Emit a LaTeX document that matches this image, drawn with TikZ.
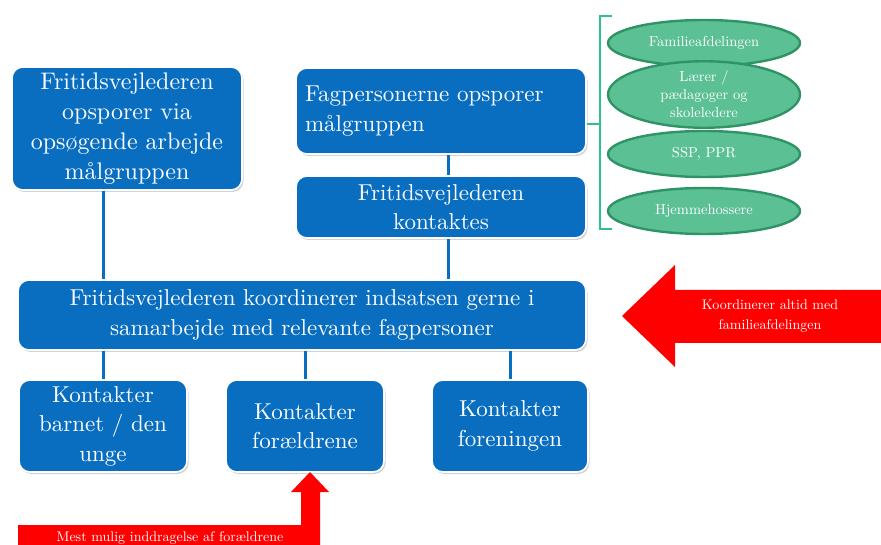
\documentclass[tikz,border=0pt]{standalone}
\usepackage{fontspec}
\newfontfamily\heavyrm{lmroman10-regular}[Extension=.otf]
\usetikzlibrary{shapes.geometric,shadows}
\definecolor{boxblue}{HTML}{0A6EC0}
\definecolor{ellfill}{HTML}{5CC095}
\definecolor{elldraw}{HTML}{2E9466}
\definecolor{bracecol}{HTML}{2EC18E}
\definecolor{arrred}{HTML}{FF0000}
\tikzset{
  bluebox/.style={draw=white, line width=1.6pt, fill=boxblue, rounded corners=11pt,
    text=white, align=center, inner sep=2pt,
    drop shadow={opacity=0.35, shadow xshift=1.5pt, shadow yshift=-2pt}},
  bigtxt/.style={font=\heavyrm\fontsize{24}{30}\selectfont},
  medtxt/.style={font=\heavyrm\fontsize{23}{29.5}\selectfont},
  greenell/.style={ellipse, draw=elldraw, line width=2.4pt, fill=ellfill,
    minimum width=192pt, minimum height=46pt, inner sep=0pt, text=white, align=center,
    font=\heavyrm\fontsize{14.5}{18}\selectfont},
  link/.style={draw=boxblue, line width=3pt},
  redarrow/.style={fill=arrred, draw=none},
  smalltxt/.style={text=white, align=center, font=\heavyrm\fontsize{14}{20}\selectfont}
}
\begin{document}
\begin{tikzpicture}[x=1pt,y=-1pt]
\useasboundingbox (0,0) rectangle (881,545);
\fill[white] (0,0) rectangle (881,545);

% nodes
\node[bluebox, bigtxt, minimum width=230pt, minimum height=123pt, text width=226pt] (b1) at (127,128.5)
  {Fritidsvejlederen\\opsporer via\\opsøgende arbejde\\målgruppen};
\node[bluebox, medtxt, minimum width=290pt, minimum height=86pt, text width=272pt, align=left] (b2) at (441,111)
  {Fagpersonerne opsporer\\målgruppen};
\node[bluebox, medtxt, minimum width=290pt, minimum height=62pt, text width=280pt] (b3) at (441,207)
  {Fritidsvejlederen\\kontaktes};
\node[bluebox, medtxt, minimum width=568pt, minimum height=70pt, text width=560pt] (b4) at (302,315)
  {Fritidsvejlederen koordinerer indsatsen gerne i\\samarbejde med relevante fagpersoner};
\node[bluebox, medtxt, minimum width=166pt, minimum height=92pt, text width=164pt] (ka) at (103,426)
  {Kontakter\\barnet / den\\unge};
\node[bluebox, medtxt, minimum width=157pt, minimum height=92pt, text width=154pt] (kb) at (305,426)
  {Kontakter\\forældrene};
\node[bluebox, medtxt, minimum width=155pt, minimum height=92pt, text width=152pt] (kc) at (510,426)
  {Kontakter\\foreningen};

% connectors
\coordinate (c3) at (448,0);
\draw[link] (b1.south -| ka) -- (b4.north -| ka);
\draw[link] (b2.south -| c3) -- (b3.north -| c3);
\draw[link] (b3.south -| c3) -- (b4.north -| c3);
\draw[link] (b4.south -| ka) -- (ka.north);
\draw[link] (b4.south -| kb) -- (kb.north);
\draw[link] (b4.south -| kc) -- (kc.north);

% ellipses
\node[greenell] (e1) at (704,43) {Familieafdelingen};
\node[greenell] (e2) at (704,94.5) {Lærer /\\pædagoger og\\skoleledere};
\node[greenell] (e3) at (704,154) {SSP, PPR};
\node[greenell] (e4) at (704,211) {Hjemmehossere};

% brace
\coordinate (brtop) at (612,16);
\coordinate (brbot) at (612,229);
\coordinate (brmid) at (600,124);
\draw[bracecol, line width=2.5pt] (brtop) -- (brtop -| brmid) -- (brbot -| brmid) -- (brbot);
\draw[bracecol, line width=2.5pt] (brmid) -- (brmid -| b2.east);

% red arrow right
\fill[redarrow] (622,316) -- (675,265) -- (675,290) -- (881,290) -- (881,343) -- (675,343) -- (675,367) -- cycle;
\node[smalltxt] (t1) at (770,316) {Koordinerer altid med\\familieafdelingen};

% red bent arrow bottom
\coordinate (tip) at (310,472);
\fill[redarrow] (tip) -- (329,492) -- (320,492) -- (320,545) -- (18,545) -- (18,525) -- (301,525) -- (301,492) -- (291,492) -- cycle;
\node[smalltxt, anchor=base] (t2) at (170,541) {Mest mulig inddragelse af forældrene};
\end{tikzpicture}
\end{document}
